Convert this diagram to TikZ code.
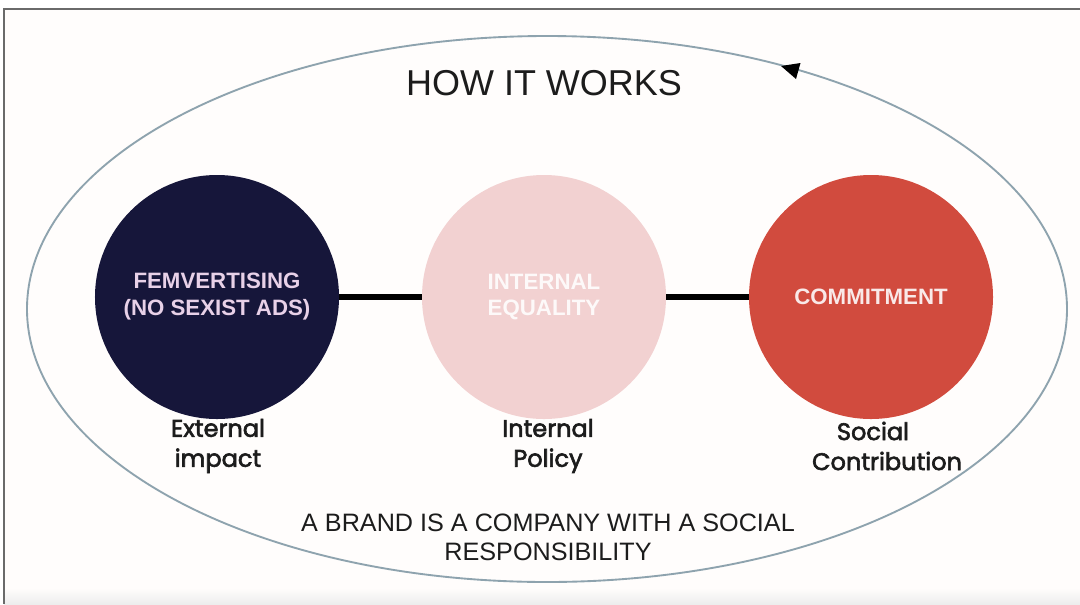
\documentclass[tikz,border=0pt]{standalone}
\usepackage{fontspec}
\setmainfont{Liberation Sans}
\newfontfamily\lblfont{Poppins}[FakeBold=2.5]
\definecolor{navy}{HTML}{16163A}
\definecolor{pinkc}{HTML}{F2D1D1}
\definecolor{redc}{HTML}{D14B3E}
\definecolor{ringc}{HTML}{8EA3AE}
\definecolor{framec}{HTML}{6A6A6A}
\definecolor{inkc}{HTML}{1C1C1C}
\begin{document}
\begin{tikzpicture}[x=0.03cm,y=-0.03cm,
  bubble/.style={circle, minimum size=7.32cm, inner sep=0pt, align=center,
    font=\bfseries\fontsize{19}{23}\selectfont},
  sublabel/.style={align=center, text=inkc, font=\lblfont\fontsize{20.5}{25.6}\selectfont},
  link/.style={line width=4.3pt, black}]
\useasboundingbox (0,0) rectangle (1080,604);
% screenshot frame
\fill[white] (0,0) rectangle (1080,604);
\fill[white!97!orange!40] (4,9) rectangle (1080,590);
\shade[top color=white!97!orange!40, bottom color=black!7] (4,588) rectangle (1080,604);
\draw[framec, line width=2pt] (4,604) -- (4,9) -- (1080,9);
% ring
\draw[ringc, line width=1.6pt] (547,309) ellipse [x radius=520, y radius=273];
\coordinate (tip) at (781,66);
\coordinate (b1) at (800.5,63);
\coordinate (b2) at (796,79);
\fill[black] (tip) -- (b1) -- (b2) -- cycle;
% title
\node[text=inkc, font=\fontsize{30.7}{34}\selectfont] (title) at (544,83) {HOW IT WORKS};
% circles
\node[bubble, fill=navy, text=white!82!violet] (c1) at (217,297) {FEMVERTISING\\(NO SEXIST ADS)};
\node[bubble, fill=pinkc, text=white!88!pinkc] (c2) at (544,297) {INTERNAL\\EQUALITY};
\node[bubble, fill=redc, text=white!88!redc] (c3) at (871,297) {COMMITMENT};
\draw[link] (c1) -- (c2);
\draw[link] (c2) -- (c3);
% labels
\node[sublabel] (l1) at (218,446) {External\\impact};
\node[sublabel] (l2) at (548,446) {Internal\\Policy};
\node[sublabel] (l3) at (887,446) {Social\hspace*{0.84cm}\\Contribution};
% footer
\node[align=center, text=inkc, font=\fontsize{21.5}{24.8}\selectfont] (foot) at (548,537)
  {A BRAND IS A COMPANY WITH A SOCIAL\\RESPONSIBILITY};
\end{tikzpicture}
\end{document}
